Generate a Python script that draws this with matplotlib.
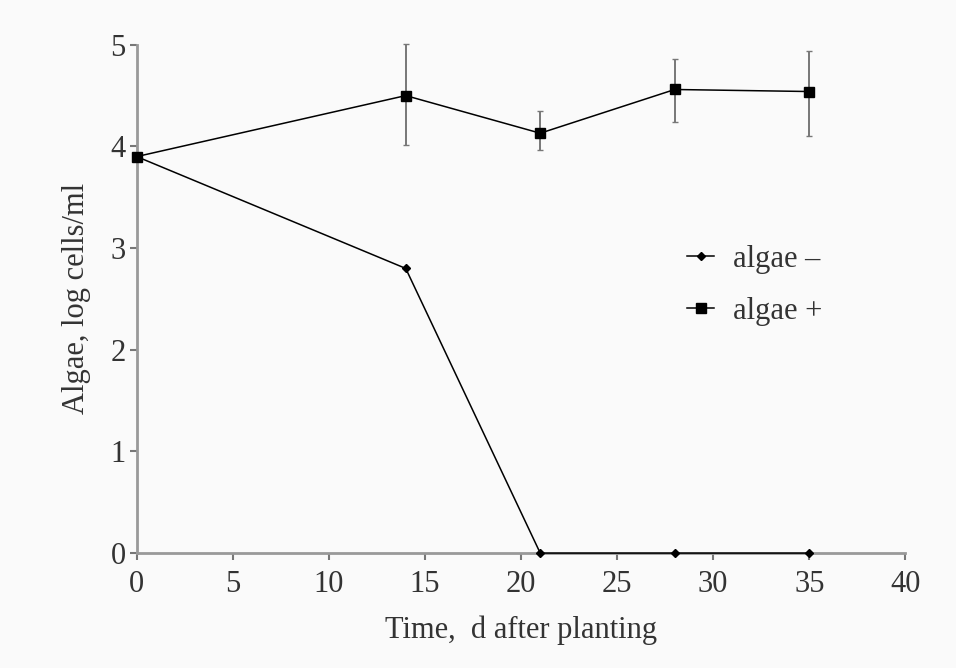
import matplotlib
matplotlib.use("Agg")
import matplotlib.pyplot as plt
import numpy as np

plt.rcParams["font.family"] = ["Liberation Serif", "DejaVu Serif"]

days = [0, 14, 21, 28, 35]
algae_minus = [3.9, 2.8, 0, 0, 0]
algae_plus = [3.9, 4.5, 4.13, 4.56, 4.54]
plus_err_low = [0, 0.49, 0.17, 0.32, 0.44]
plus_err_high = [0, 0.51, 0.22, 0.30, 0.40]

fig = plt.figure(figsize=(9.56, 6.68), dpi=100, facecolor="#fafafa")
ax = fig.add_axes([0.143, 0.172, 0.804, 0.761])
ax.set_facecolor("#fafafa")

line_minus, = ax.plot(days, algae_minus, color="black", lw=1.1, marker="D",
                      ms=4, clip_on=False, zorder=3)
eb = ax.errorbar(days, algae_plus, yerr=[plus_err_low, plus_err_high],
                 color="black", lw=1.1, marker="s", ms=7, ecolor="#777777",
                 elinewidth=1.4, capsize=2, capthick=1, clip_on=False, zorder=3)

ax.set_xlim(0, 40)
ax.set_ylim(0, 5)
ax.set_xticks(np.arange(0, 41, 5))
ax.set_yticks(np.arange(0, 6, 1))

for s in ["top", "right"]:
    ax.spines[s].set_visible(False)
for s in ["left", "bottom"]:
    ax.spines[s].set_color("#999999")
    ax.spines[s].set_linewidth(2)

ax.tick_params(direction="out", length=5, width=1.5, color="#777777",
               labelsize=22, labelcolor="#333333")
ax.tick_params(axis="x", pad=7)
ax.tick_params(axis="y", pad=3)
ax.set_xlabel("Time,  d after planting", fontsize=22, color="#333333", labelpad=12)
ax.set_ylabel("Algae, log cells/ml", fontsize=22, color="#333333", labelpad=14)

ax.legend([line_minus, eb.lines[0]], ["algae \u2013", "algae +"],
          loc="upper left", bbox_to_anchor=(0.68, 0.66), frameon=False,
          fontsize=22, handlelength=0.9, handletextpad=0.6, labelspacing=0.75,
          labelcolor="#333333")

fig.savefig("out.png", dpi=100, facecolor=fig.get_facecolor())
